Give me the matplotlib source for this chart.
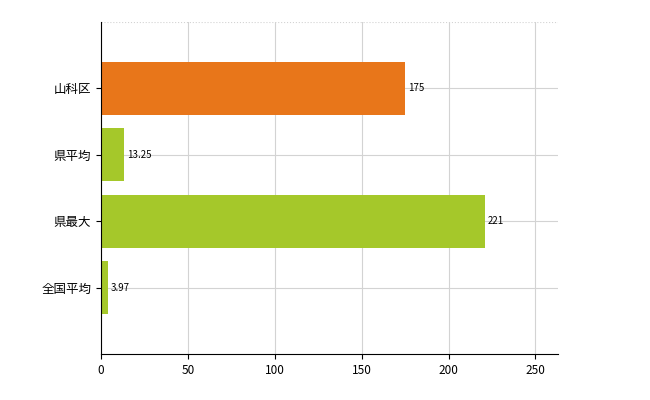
import matplotlib.pyplot as plt

plt.rcParams['font.family'] = ['Noto Sans CJK JP', 'DejaVu Sans']

categories = ['山科区', '県平均', '県最大', '全国平均']
values = [175, 13.25, 221, 3.97]
labels = ['175', '13.25', '221', '3.97']
colors = ['#E8761A', '#A5C82A', '#A5C82A', '#A5C82A']

fig = plt.figure(figsize=(6.5, 4), dpi=100)
ax = fig.add_axes([101 / 650, 46 / 400, 457 / 650, 332 / 400])

pos = [1, 2, 3, 4]
ax.barh(pos, values, height=0.8, color=colors, zorder=2)
for p, v, t in zip(pos, values, labels):
    ax.text(v + 1.5, p, t, va='center', ha='left', fontsize=7)

ax.set_xlim(0, 263)
ax.set_ylim(5, 0)
ax.set_yticks(pos)
ax.set_yticklabels(categories, fontsize=9)
ax.set_xticks([0, 50, 100, 150, 200, 250])
ax.tick_params(axis='x', labelsize=8.5)
ax.grid(True, color='#d3d3d3', linewidth=0.8, zorder=0)
for s in ['top', 'right']:
    ax.spines[s].set_visible(False)
ax.axhline(0, color='#d3d3d3', linewidth=0.8, linestyle=':')
ax.spines['left'].set_linewidth(0.8)
ax.spines['bottom'].set_linewidth(0.8)

fig.savefig('out.png', dpi=100)
